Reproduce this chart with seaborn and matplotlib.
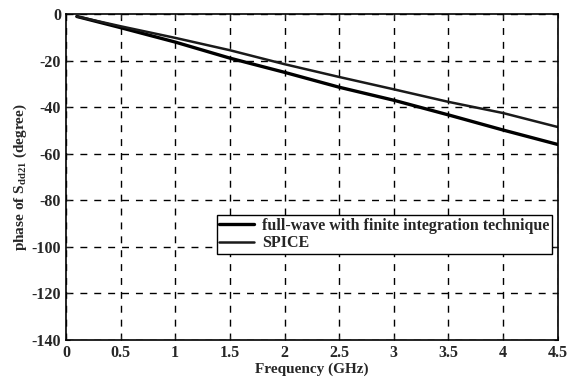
import matplotlib
matplotlib.use("Agg")
import matplotlib.pyplot as plt
import seaborn as sns
import pandas as pd

# values
freq_ghz     = [0.1, 0.5, 1.0, 1.5, 2.0, 2.5, 3.0, 3.5, 4.0, 4.5]
phase_full   = [-1.0, -5.8, -12.0, -18.9, -25.0, -31.4, -37.0, -43.3, -49.8, -56.0]
phase_spice  = [-1.0, -5.2, -10.2, -15.5, -21.5, -27.0, -32.3, -37.7, -42.5, -48.5]
x_ticks      = [0, 0.5, 1, 1.5, 2, 2.5, 3, 3.5, 4, 4.5]
x_ticklabels = ["0", "0.5", "1", "1.5", "2", "2.5", "3", "3.5", "4", "4.5"]
y_ticks      = [0, -20, -40, -60, -80, -100, -120, -140]
series_names = ["full-wave with finite integration technique", "SPICE"]

df = pd.concat([
    pd.DataFrame({"freq": freq_ghz, "phase": phase_full, "series": series_names[0]}),
    pd.DataFrame({"freq": freq_ghz, "phase": phase_spice, "series": series_names[1]}),
])

sns.set_style("ticks")
plt.rcParams["font.family"] = ["Liberation Serif", "DejaVu Serif"]
plt.rcParams["mathtext.fontset"] = "custom"
plt.rcParams["mathtext.rm"] = "Liberation Serif"
plt.rcParams["mathtext.bf"] = "Liberation Serif:bold"
plt.rcParams["axes.unicode_minus"] = False

fig = plt.figure(figsize=(5.78, 3.82), dpi=100)
ax = fig.add_axes([0.114, 0.110, 0.851, 0.853])

sns.lineplot(data=df, x="freq", y="phase", hue="series", size="series",
             sizes={series_names[0]: 2.4, series_names[1]: 1.8},
             palette={series_names[0]: "black", series_names[1]: "#1a1a1a"},
             ax=ax, legend=True)

ax.set_xlim(0, 4.5)
ax.set_ylim(-140, 0)
ax.set_xticks(x_ticks)
ax.set_xticklabels(x_ticklabels)
ax.set_yticks(y_ticks)
ax.grid(True, color="black", linestyle=(0, (5, 5)), linewidth=1.0)
for s in ax.spines.values():
    s.set_color("black")
    s.set_linewidth(1.2)
    s.set_visible(True)
ax.tick_params(direction="in", length=3, labelsize=11.5, top=True, right=True)
for lab in ax.get_xticklabels() + ax.get_yticklabels():
    lab.set_fontweight("bold")

ax.set_xlabel("Frequency (GHz)", fontsize=11, fontweight="bold", labelpad=1)
ax.set_ylabel(r"phase of S$_{\mathbf{dd21}}$ (degree)", fontsize=11, fontweight="bold", labelpad=2)

handles, labels = ax.get_legend_handles_labels()
leg = ax.legend(handles, labels, loc="upper left", bbox_to_anchor=(0.307, 0.383),
                frameon=True, fancybox=False, edgecolor="black", framealpha=1,
                fontsize=11.5, borderpad=0.15, labelspacing=0.1, handlelength=2.2,
                handletextpad=0.5, borderaxespad=0)
leg.get_frame().set_linewidth(1.0)
for t in leg.get_texts():
    t.set_fontweight("bold")

fig.savefig("out.png", dpi=100)
